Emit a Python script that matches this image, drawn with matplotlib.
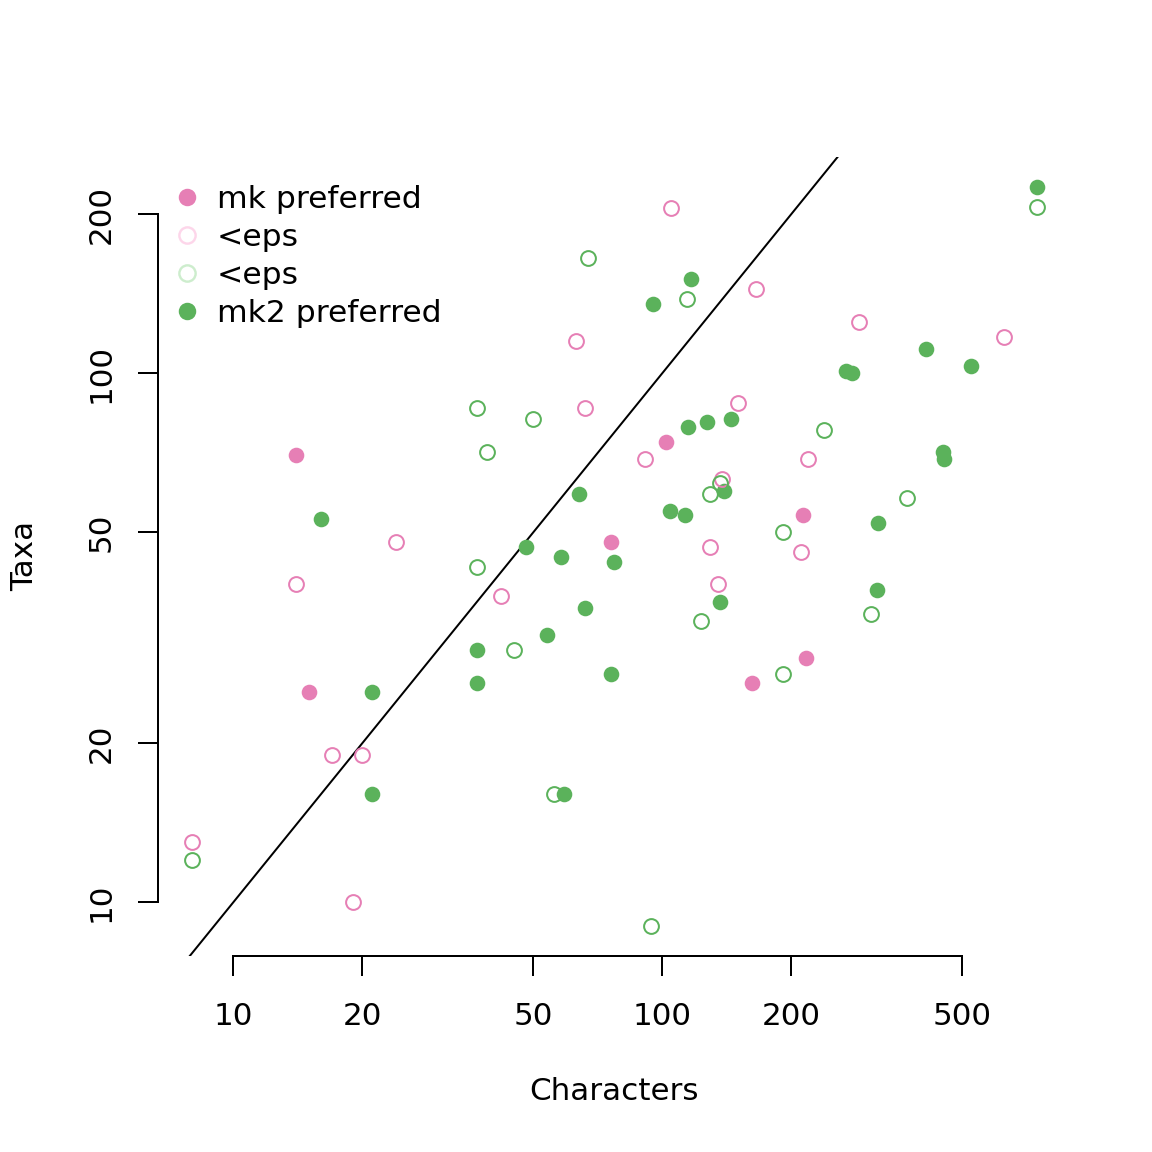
import numpy as np
import matplotlib
matplotlib.use("Agg")
import matplotlib.pyplot as plt
from matplotlib.lines import Line2D

# ---- data (Characters, Taxa) ----
mk_pref_x = [102, 14, 213, 76, 216, 15, 162]
mk_pref_y = [74, 70, 54, 48, 29, 25, 26]

mk_eps_x = [105, 165, 288, 626, 63, 66, 150, 91, 219, 138, 24, 129, 211, 14, 135, 42, 17, 20, 8, 19]
mk_eps_y = [205, 144, 125, 117, 115, 86, 88, 69, 69, 63, 48, 47, 46, 40, 40, 38, 19, 19, 13, 10]

mk2_eps_x = [747, 67, 114, 37, 50, 238, 39, 136, 129, 372, 191, 37, 307, 123, 45, 191, 56, 8, 94]
mk2_eps_y = [206, 165, 138, 86, 82, 78, 71, 62, 59, 58, 50, 43, 35, 34, 30, 27, 16, 12, 9]

mk2_pref_x = [747, 117, 95, 412, 525, 268, 277, 145, 127, 115, 451, 453, 139, 64, 104, 113, 16,
              319, 48, 58, 77, 317, 136, 66, 54, 37, 76, 21, 37, 21, 59]
mk2_pref_y = [225, 151, 135, 111, 103, 101, 100, 82, 81, 79, 71, 69, 60, 59, 55, 54, 53,
              52, 47, 45, 44, 39, 37, 36, 32, 30, 27, 25, 26, 16, 16]

x_ticks = [10, 20, 50, 100, 200, 500]
y_ticks = [10, 20, 50, 100, 200]
legend_labels = ["mk preferred", "<eps", "<eps", "mk2 preferred"]

PINK = "#E67FB5"
GREEN = "#5BB25B"
PINK_FADE = "#FDD6EA"
GREEN_FADE = "#CDEDCD"

plt.rcParams['font.family'] = ['DejaVu Sans']
FS = 15.5

fig = plt.figure(figsize=(8, 8), dpi=144)
W = 1152.0
ax = fig.add_axes([158 / W, (W - 956) / W, (1070.6 - 158) / W, (956 - 157.4) / W])
ax.set_xscale('log')
ax.set_yscale('log')

all_x = np.log10(np.array(mk_pref_x + mk_eps_x + mk2_eps_x + mk2_pref_x, float))
all_y = np.log10(np.array(mk_pref_y + mk_eps_y + mk2_eps_y + mk2_pref_y, float))
rx = all_x.max() - all_x.min()
ry = all_y.max() - all_y.min()
xlim = (10 ** (all_x.min() - 0.04 * rx), 10 ** (all_x.max() + 0.04 * rx))
ylim = (10 ** (all_y.min() - 0.04 * ry), 10 ** (all_y.max() + 0.04 * ry))

ms_open, mew_open, ms_fill = 7.4, 1.0, 7.8
ax.plot(mk2_pref_x, mk2_pref_y, 'o', ls='none', color=GREEN, ms=ms_fill, mew=0, zorder=3)
ax.plot(mk_pref_x, mk_pref_y, 'o', ls='none', color=PINK, ms=ms_fill, mew=0, zorder=3)
ax.plot(mk_eps_x, mk_eps_y, 'o', ls='none', mfc='none', mec=PINK, ms=ms_open, mew=mew_open, zorder=3)
ax.plot(mk2_eps_x, mk2_eps_y, 'o', ls='none', mfc='none', mec=GREEN, ms=ms_open, mew=mew_open, zorder=3)

# y = x reference line
ax.plot([1, 10000], [1, 10000], color='black', lw=1.0, zorder=2)

ax.set_xlim(*xlim)
ax.set_ylim(*ylim)

for s in ['top', 'right']:
    ax.spines[s].set_visible(False)
ax.spines['left'].set_bounds(y_ticks[0], y_ticks[-1])
ax.spines['bottom'].set_bounds(x_ticks[0], x_ticks[-1])
ax.spines['left'].set_linewidth(1.0)
ax.spines['bottom'].set_linewidth(1.0)

ax.xaxis.set_minor_locator(matplotlib.ticker.NullLocator())
ax.yaxis.set_minor_locator(matplotlib.ticker.NullLocator())
ax.set_xticks(x_ticks)
ax.set_xticklabels([str(t) for t in x_ticks])
ax.set_yticks(y_ticks)
ax.set_yticklabels([str(t) for t in y_ticks], rotation=90, va='center')
ax.tick_params(axis='both', length=10, width=1.0, labelsize=FS, direction='out')
ax.tick_params(axis='x', pad=13)
ax.tick_params(axis='y', pad=11)

fig.text(614 / W, 1 - 1091 / W, "Characters", ha='center', va='center', fontsize=FS)
fig.text(25 / W, 1 - 556 / W, "Taxa", ha='center', va='center', rotation=90, fontsize=FS)

handles = [
    Line2D([], [], ls='none', marker='o', color=PINK, ms=ms_fill * 1.12, mew=0),
    Line2D([], [], ls='none', marker='o', mfc='none', mec=PINK_FADE, ms=ms_open * 1.1, mew=1.2),
    Line2D([], [], ls='none', marker='o', mfc='none', mec=GREEN_FADE, ms=ms_open * 1.1, mew=1.2),
    Line2D([], [], ls='none', marker='o', color=GREEN, ms=ms_fill * 1.12, mew=0),
]
ax.legend(handles, legend_labels, loc='upper left', bbox_to_anchor=(171.5 / W, 1 - 184.5 / W),
          bbox_transform=fig.transFigure, frameon=False, borderpad=0, borderaxespad=0,
          handlelength=1.0, handletextpad=0.45, labelspacing=0.29, fontsize=FS + 0.2)

fig.savefig("out.png", dpi=144)
